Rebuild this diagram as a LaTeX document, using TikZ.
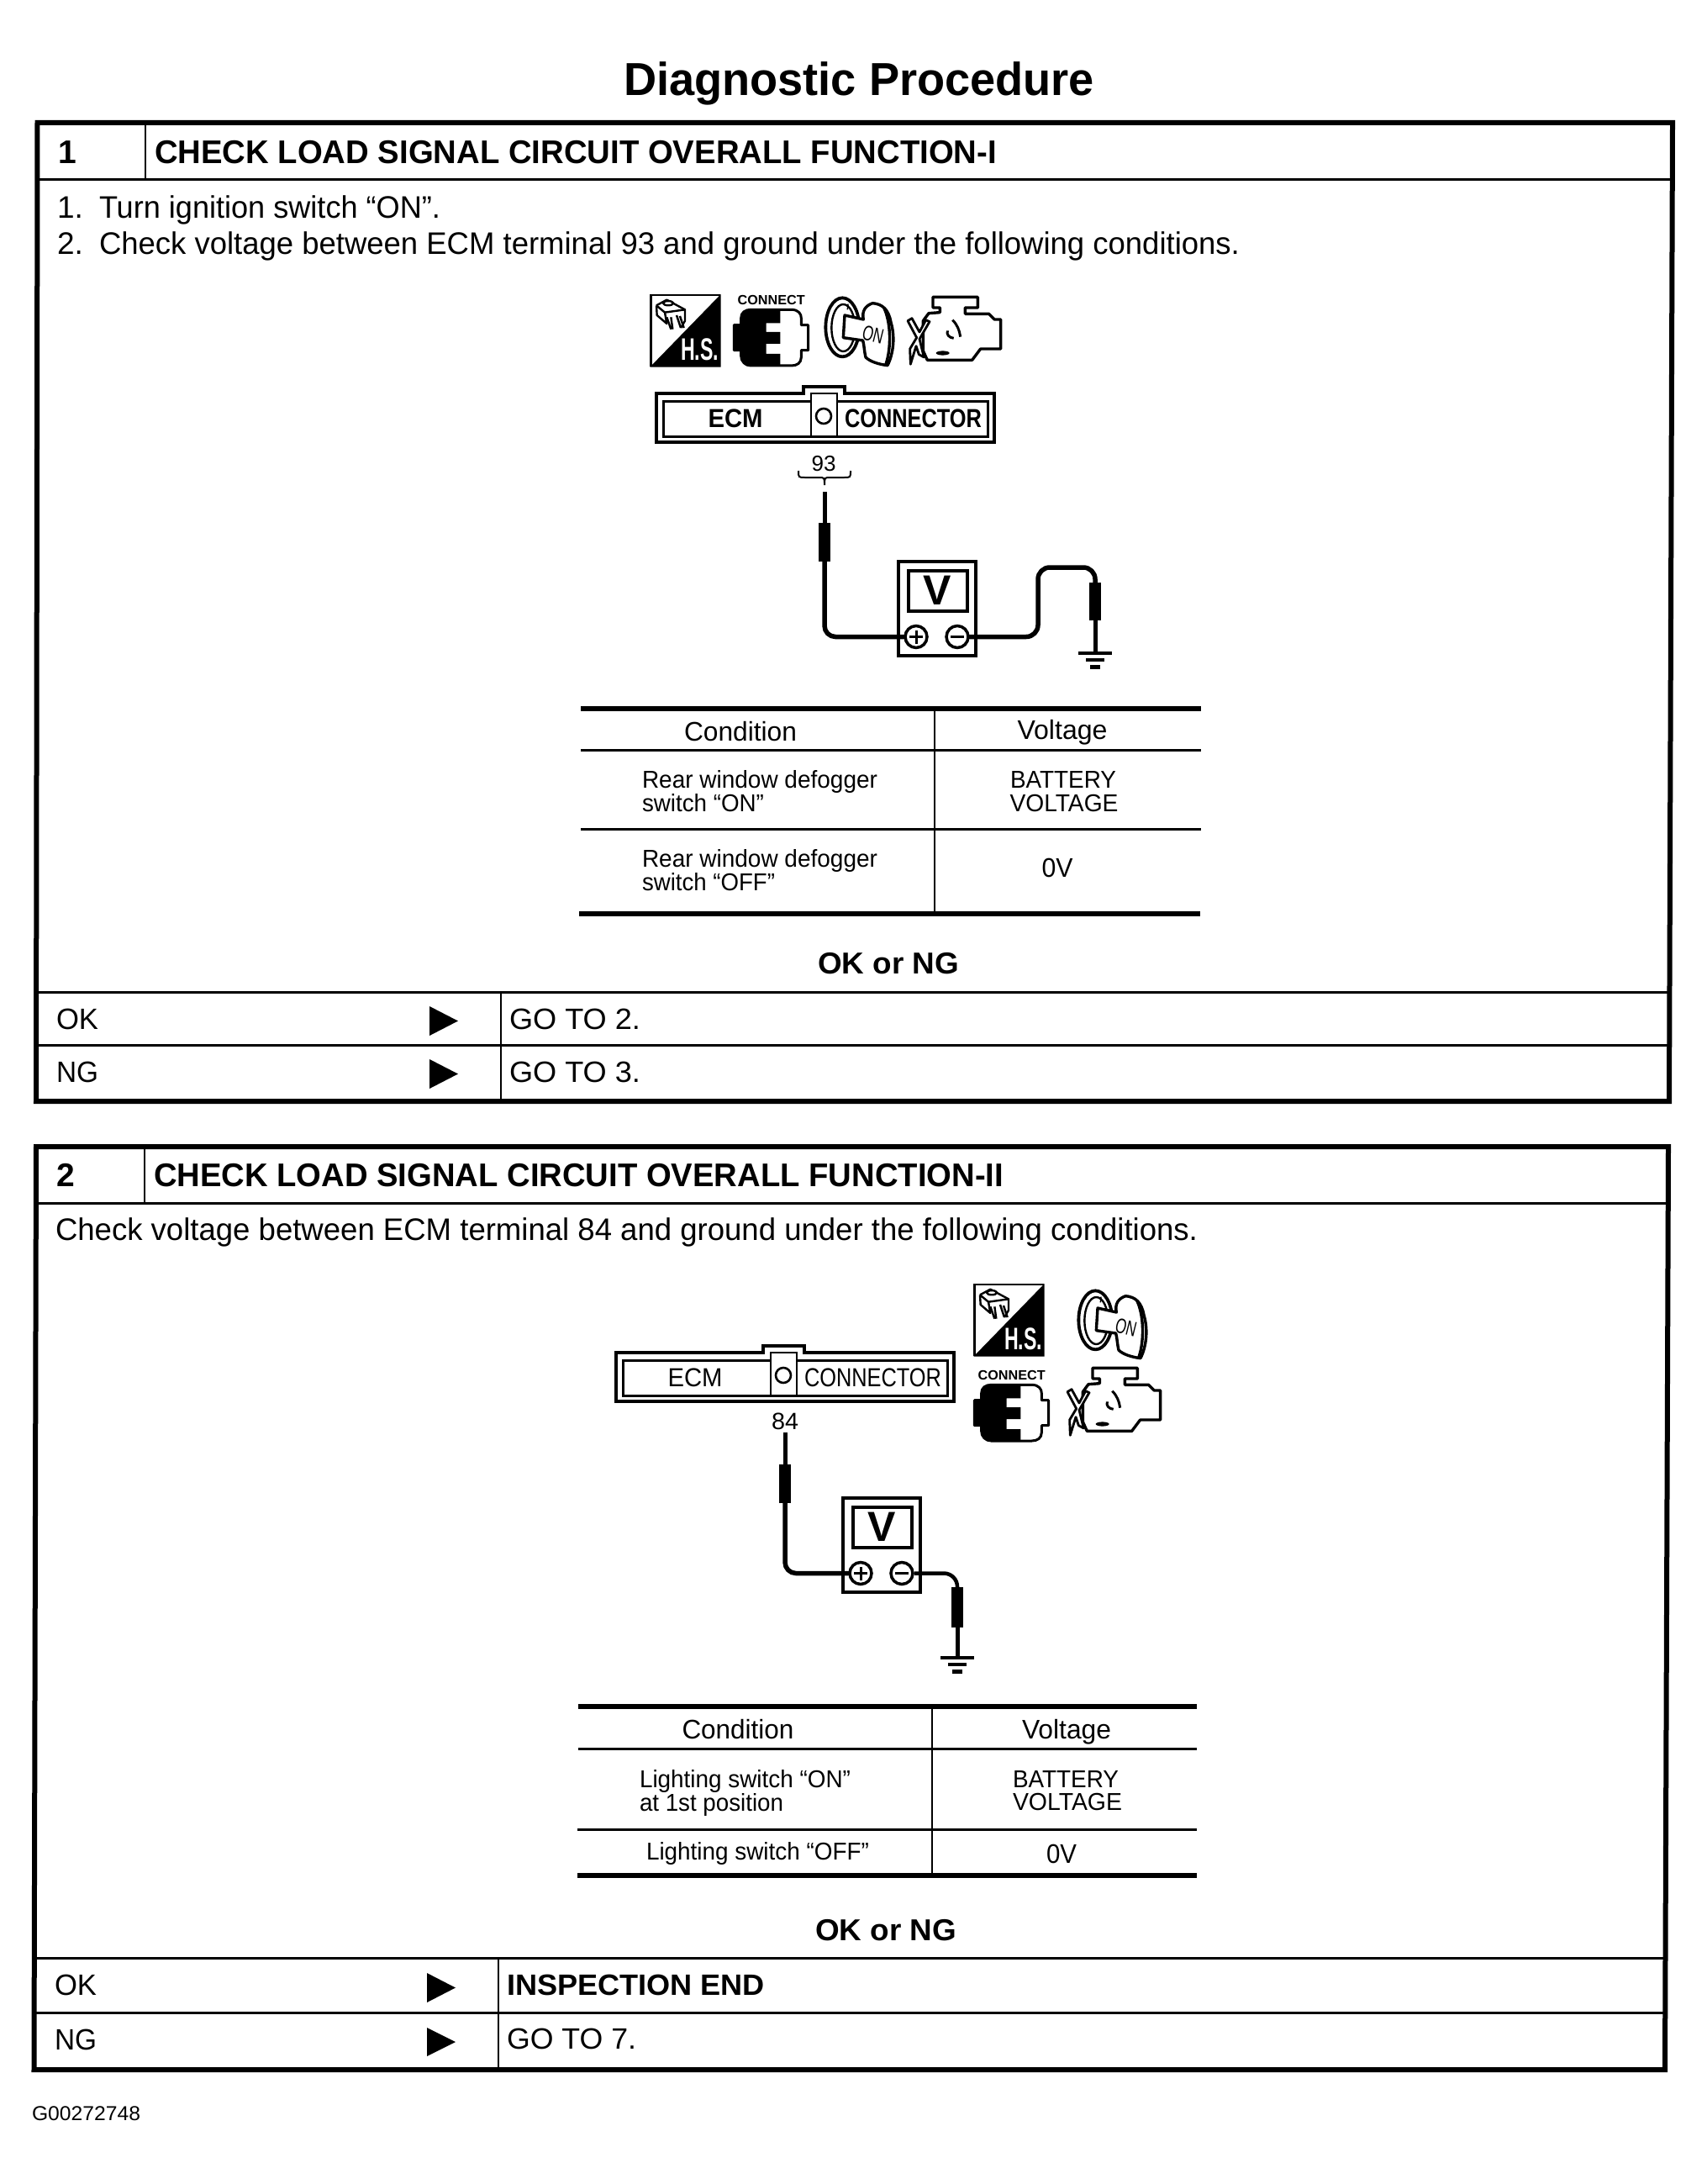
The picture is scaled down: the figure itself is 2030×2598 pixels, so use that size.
\documentclass[tikz,border=0pt]{standalone}
\usepackage{graphicx}
\usepackage{fontspec}
\setmainfont{Liberation Sans}
\newcommand{\W}[2]{\resizebox{#1pt}{\height}{#2}}
\newcommand{\fz}[1]{\fontsize{#1}{#1}\selectfont}
\tikzset{
  lbl/.style={inner sep=0pt,outer sep=0pt,anchor=base west,text=black},
  lblc/.style={inner sep=0pt,outer sep=0pt,anchor=base,text=black},
  bodyf/.style={font=\fz{37}},
  hdrf/.style={font=\fz{39}\bfseries},
  tblf/.style={font=\fz{32}},
  smallf/.style={font=\fz{29}},
  rowf/.style={font=\fz{35}},
  okf/.style={font=\fz{36}\bfseries},
  frame/.style={draw=black,line width=6pt,line join=miter},
  rule/.style={draw=black,line width=3pt},
  fatrule/.style={draw=black,line width=6pt},
  thinv/.style={draw=black,line width=2.5pt},
  wire/.style={draw=black,line width=5.5pt,line cap=round},
  pinline/.style={draw=black,line width=5pt},
  tipbox/.style={fill=black,draw=none,minimum width=14pt,inner sep=0pt},
  metbox/.style={draw=black,line width=4pt,fill=white,inner sep=0pt,minimum width=92pt,minimum height=112pt},
  scrbox/.style={draw=black,line width=3.5pt,fill=white,inner sep=0pt,minimum width=70pt,minimum height=48pt},
  term/.style={circle,draw=black,line width=3.5pt,fill=white,inner sep=0pt,minimum size=26pt},
  icon/.style={draw=black,line width=2.6pt,line join=round},
}
% ---- H.S. icon; local units are thirds of a pixel
\newcommand{\hsicon}[3]{\begin{scope}[shift={(#1,#2)},x=0.3333pt,y=-0.3333pt]
  \draw[line width=2.6pt] (28,288) -- (28,33) -- (276,33);
  \fill[black] (278,30) -- (278,290) -- (25,290) -- cycle;
  \draw[icon,line width=2.4pt] (48,70) -- (85,50) -- (150,85) -- (150,125) -- (135,150);
  \draw[icon,line width=2.4pt] (48,70) -- (50,105) -- (85,135) -- (78,95) -- (48,70);
  \draw[icon,line width=2.4pt] (78,95) -- (150,85);
  \draw[icon,line width=2.4pt,fill=white] (90,62) ellipse [x radius=6pt,y radius=2.6pt];
  \draw[icon,line width=2.4pt] (85,112) -- (100,155) (100,112) -- (106,155) (120,105) -- (135,150) (132,108) -- (146,150);
  \node[lbl,text=white,font=\fz{37}\bfseries] (hstext#3) at (135,265) {\W{45}{H.S.}};
\end{scope}}
% ---- CONNECT plug icon
\newcommand{\plugicon}[3]{\begin{scope}[shift={(#1,#2)},x=0.3333pt,y=-0.3333pt]
  \node[lbl,font=\fz{16}\bfseries] (plugtext#3) at (338,68) {\W{80}{CONNECT}};
  \def\plugpath{(325,140) -- (350,140) -- (350,115) .. controls (350,95) and (365,85) .. (385,85) -- (530,85) .. controls (555,85) and (565,100) .. (565,115) -- (565,140) -- (590,140) -- (590,230) -- (565,230) -- (565,255) .. controls (565,275) and (550,285) .. (530,285) -- (385,285) .. controls (365,285) and (350,270) .. (350,250) -- (350,230) -- (325,230) -- cycle}
  \begin{scope}
    \clip \plugpath;
    \fill[black] (320,80) -- (490,80) -- (490,133) -- (440,133) -- (440,165) -- (490,165) -- (490,207) -- (440,207) -- (440,243) -- (490,243) -- (490,290) -- (320,290) -- cycle;
  \end{scope}
  \draw[icon,line width=3pt] \plugpath;
\end{scope}}
% ---- ignition key icon
\newcommand{\keyicon}[3]{\begin{scope}[shift={(#1,#2)},x=0.3333pt,y=-0.3333pt]
  \draw[icon,line width=3.8pt] (97,148) ellipse [x radius=20pt,y radius=35pt];
  \draw[icon,line width=2.4pt] (100,150) ellipse [x radius=14pt,y radius=28pt];
  \draw[icon,line width=1.5pt] (117,65) -- (115,85);
  \draw[icon,line width=3.4pt,fill=white] (172,120) -- (105,105) -- (100,185) -- (170,195) .. controls (175,215) and (175,235) .. (180,255) .. controls (195,270) and (225,280) .. (258,284) .. controls (280,240) and (285,180) .. (270,130) .. controls (262,85) and (240,65) .. (205,62) .. controls (180,70) and (165,90) .. (172,120) -- cycle;
  \draw[icon,line width=3.4pt] (245,78) .. controls (270,130) and (272,220) .. (252,280);
  \node[lblc,font=\fz{25},rotate=-14] (keytext#3) at (200,200) {\W{25}{ON}};
\end{scope}}
% ---- engine icon
\newcommand{\engineicon}[3]{\begin{scope}[shift={(#1,#2)},x=0.3333pt,y=-0.3333pt]
  \draw[icon,line width=3.4pt,fill=white] (420,40) -- (580,40) -- (580,78) -- (535,78) -- (535,100) -- (620,100) -- (640,120) -- (662,120) -- (662,225) -- (590,225) -- (560,265) -- (400,265) -- (385,232) -- (385,125) -- (405,98) -- (445,95) -- (445,78) -- (420,78) -- cycle;
  \draw[icon,line width=2.8pt,fill=white] (362,185) -- (330,125) -- (345,116) -- (372,165) -- (395,122) -- (408,128) -- (372,190) -- (388,255) -- (370,245) -- (360,215) -- (340,280) -- (338,225) -- cycle;
  \draw[icon,line width=3pt] (490,122) .. controls (508,140) and (515,160) .. (518,182);
  \draw[icon,line width=3pt] (472,160) .. controls (468,175) and (478,185) .. (494,187);
  \fill[black] (455,240) ellipse [x radius=8pt,y radius=2.6pt];
\end{scope}}
% ---- ECM connector
\newcommand{\ecmconn}[4]{\begin{scope}[shift={(#1,#2)}]
  \draw[draw=black,line width=4pt] (2,2) -- (177,2) -- (177,-6) -- (226,-6) -- (226,2) -- (404,2) -- (404,60) -- (2,60) -- cycle;
  \draw[draw=black,line width=3pt] (10,11) rectangle (396,53);
  \draw[draw=black,line width=2.6pt,fill=white] (186,2) rectangle (217,53);
  \node[circle,draw=black,line width=2.6pt,inner sep=0pt,minimum size=18pt] (pinhole#3) at (201,29) {};
  \node[lblc,font=\fz{31}#4] (ecmtext#3) at (96,42) {\W{65}{ECM}};
  \node[lbl,font=\fz{31}#4] (conntext#3) at (226,42) {\W{163}{CONNECTOR}};
\end{scope}}
% ---- voltmeter
\newcommand{\voltmeter}[3]{
  \node[metbox,anchor=north west] (meter#3) at (#1,#2) {};
  \node[scrbox,anchor=north west] (screen#3) at ([shift={(12,11)}]meter#3.north west) {};
  \node[lblc,font=\fz{50}\bfseries] (vtext#3) at (#1+48.5,#2+53) {V};
  \node[term] (plus#3) at (#1+23,#2+91.5) {};
  \node[term] (minus#3) at (#1+72,#2+91.5) {};
  \draw[draw=black,line width=3pt] ([xshift=-8pt]plus#3.center) -- ([xshift=8pt]plus#3.center) ([yshift=-8pt]plus#3.center) -- ([yshift=8pt]plus#3.center);
  \draw[draw=black,line width=3.5pt] ([xshift=-8pt]minus#3.center) -- ([xshift=8pt]minus#3.center);
}
% ---- ground symbol, at the coordinate (#1)
\newcommand{\groundbars}[1]{
  \draw[draw=black,line width=3.5pt] ([xshift=-20pt]#1) -- ([xshift=20pt]#1);
  \draw[draw=black,line width=3.5pt] ([shift={(-11pt,-8pt)}]#1) -- ([shift={(11pt,-8pt)}]#1);
  \draw[draw=black,line width=5pt] ([shift={(-6pt,-16pt)}]#1) -- ([shift={(6pt,-16pt)}]#1);
}
\begin{document}
\begin{tikzpicture}[x=1pt,y=-1pt]
\useasboundingbox (0,0) rectangle (2030,2598);
\fill[white] (0,0) rectangle (2030,2598);

\node[lbl,font=\fz{55}\bfseries] (title) at (742,114) {\W{560}{Diagnostic Procedure}};

% ============ BOX 1
\draw[frame] (44.5,146) -- (1990,146) -- (1986,1310) -- (43,1310) -- cycle;
\draw[rule] (44,214) -- (1989,214);
\draw[thinv] (173,146) -- (173,214);
\node[lbl,hdrf] (numA) at (69,195) {1};
\node[lbl,hdrf] (headA) at (184,195) {\W{1002}{CHECK LOAD SIGNAL CIRCUIT OVERALL FUNCTION-I}};
\node[lbl,bodyf] (stepAa) at (68,259) {1.};
\node[lbl,bodyf] (stepAb) at (118,259) {\W{406}{Turn ignition switch “ON”.}};
\node[lbl,bodyf] (stepBa) at (68,302) {2.};
\node[lbl,bodyf] (stepBb) at (118,302) {\W{1357}{Check voltage between ECM terminal 93 and ground under the following conditions.}};

\hsicon{765}{340}{A}
\plugicon{765}{340}{A}
\keyicon{970}{340}{A}
\engineicon{970}{340}{A}
\ecmconn{779}{466}{A}{\bfseries}
\node[lblc,font=\fz{26}] (termA) at (980,560) {\W{29}{93}};
\draw[draw=black,line width=2pt] (950,560) .. controls (950,568) .. (958,568) -- (974,568) .. controls (981,568) .. (981,577) .. controls (981,568) .. (988,568) -- (1004,568) .. controls (1012,568) .. (1012,560);

\voltmeter{1067}{666}{A}
\coordinate (pinA) at (981,585);
\node[tipbox,minimum height=46pt] (tipA) at (981,645) {};
\draw[pinline] (pinA) -- (tipA.north);
\draw[wire,rounded corners=13pt] (tipA.south) |- (plusA.west);
\node[tipbox,minimum height=45pt] (tipB) at (1303,715.5) {};
\draw[wire,rounded corners=14pt] (minusA.east) -| (1235,675) -| (tipB.north);
\coordinate (gndA) at (1303,777);
\draw[pinline] (tipB.south) -- (gndA);
\groundbars{gndA}

% table 1
\draw[fatrule] (691,843) -- (1429,843);
\draw[rule] (691,892) -- (1429,892);
\draw[rule] (691,986) -- (1429,986);
\draw[fatrule] (689,1087) -- (1428,1087);
\draw[thinv] (1112,843) -- (1112,1087);
\node[lblc,tblf] (cA) at (881,881) {\W{134}{Condition}};
\node[lblc,tblf] (vA) at (1264,879) {\W{107}{Voltage}};
\node[lbl,smallf] (rA1) at (764,937) {\W{280}{Rear window defogger}};
\node[lbl,smallf] (rA2) at (764,965) {\W{145}{switch “ON”}};
\node[lblc,smallf] (bA1) at (1265,937) {\W{126}{BATTERY}};
\node[lblc,smallf] (bA2) at (1266,965) {\W{129}{VOLTAGE}};
\node[lbl,smallf] (rB1) at (764,1031) {\W{280}{Rear window defogger}};
\node[lbl,smallf] (rB2) at (764,1059) {\W{158}{switch “OFF”}};
\node[lblc,tblf] (zA) at (1258,1043) {\W{37}{0V}};
\node[lblc,okf] (okngA) at (1057,1158) {\W{168}{OK or NG}};

% rows 1
\draw[rule] (44,1180) -- (1988,1180);
\draw[rule] (44,1243) -- (1987,1243);
\draw[thinv] (596,1180) -- (596,1310);
\node[lbl,rowf] (okA) at (67,1224) {\W{50}{OK}};
\node[lbl,rowf] (ngA) at (67,1287) {\W{50}{NG}};
\fill[black] (511,1197) -- (545,1214.5) -- (511,1232) -- cycle;
\fill[black] (511,1260) -- (545,1277.5) -- (511,1295) -- cycle;
\node[lbl,rowf] (goA) at (606,1224) {\W{156}{GO TO 2.}};
\node[lbl,rowf] (goB) at (606,1287) {\W{156}{GO TO 3.}};

% ============ BOX 2
\draw[frame] (43,1364) -- (1985,1364) -- (1981,2462) -- (40.5,2462) -- cycle;
\draw[rule] (43,1431) -- (1984,1431);
\draw[thinv] (172,1364) -- (172,1431);
\node[lbl,hdrf] (numB) at (67,1411) {2};
\node[lbl,hdrf] (headB) at (183,1411) {\W{1011}{CHECK LOAD SIGNAL CIRCUIT OVERALL FUNCTION-II}};
\node[lbl,bodyf] (stepC) at (66,1475) {\W{1359}{Check voltage between ECM terminal 84 and ground under the following conditions.}};

\hsicon{1150}{1517}{B}
\plugicon{1051}{1619}{B}
\keyicon{1271}{1521}{B}
\engineicon{1160}{1614}{B}
\ecmconn{731}{1607}{B}{}
\node[lblc,font=\fz{28}] (termB) at (934,1700) {\W{32}{84}};

\voltmeter{1001}{1780}{B}
\coordinate (pinB) at (934,1704);
\node[tipbox,minimum height=46pt] (tipC) at (934,1765) {};
\draw[pinline] (pinB) -- (tipC.north);
\draw[wire,rounded corners=13pt] (tipC.south) |- (plusB.west);
\node[tipbox,minimum height=48pt] (tipD) at (1139,1912) {};
\draw[draw=black,line width=4.5pt,rounded corners=16pt] (minusB.east) -| (tipD.north);
\coordinate (gndB) at (1139,1972);
\draw[pinline] (tipD.south) -- (gndB);
\groundbars{gndB}

% table 2
\draw[fatrule] (688,2030) -- (1424,2030);
\draw[rule] (688,2080) -- (1424,2080);
\draw[rule] (687,2176) -- (1424,2176);
\draw[fatrule] (687,2231) -- (1424,2231);
\draw[thinv] (1109,2030) -- (1109,2231);
\node[lblc,tblf] (cB) at (878,2068) {\W{133}{Condition}};
\node[lblc,tblf] (vB) at (1269,2068) {\W{106}{Voltage}};
\node[lbl,smallf] (lA1) at (761,2126) {\W{251}{Lighting switch “ON”}};
\node[lbl,smallf] (lA2) at (761,2154) {\W{171}{at 1st position}};
\node[lblc,smallf] (bB1) at (1268,2126) {\W{126}{BATTERY}};
\node[lblc,smallf] (bB2) at (1270,2153) {\W{130}{VOLTAGE}};
\node[lbl,smallf] (lB1) at (769,2212) {\W{265}{Lighting switch “OFF”}};
\node[lblc,tblf] (zB) at (1263,2216) {\W{36}{0V}};
\node[lblc,okf] (okngB) at (1054,2308) {\W{168}{OK or NG}};

% rows 2
\draw[rule] (41,2329) -- (1982,2329);
\draw[rule] (41,2394) -- (1981,2394);
\draw[thinv] (593,2329) -- (593,2462);
\node[lbl,rowf] (okB) at (65,2373) {\W{50}{OK}};
\node[lbl,rowf] (ngB) at (65,2438) {\W{50}{NG}};
\fill[black] (508,2347) -- (542,2364.5) -- (508,2382) -- cycle;
\fill[black] (508,2412) -- (542,2429) -- (508,2446) -- cycle;
\node[lbl,font=\fz{35}\bfseries] (endB) at (603,2373) {\W{307}{INSPECTION END}};
\node[lbl,rowf] (goC) at (603,2437) {\W{154}{GO TO 7.}};

\node[lbl,font=\fz{24}] (code) at (38,2522) {\W{129}{G00272748}};
\end{tikzpicture}
\end{document}
